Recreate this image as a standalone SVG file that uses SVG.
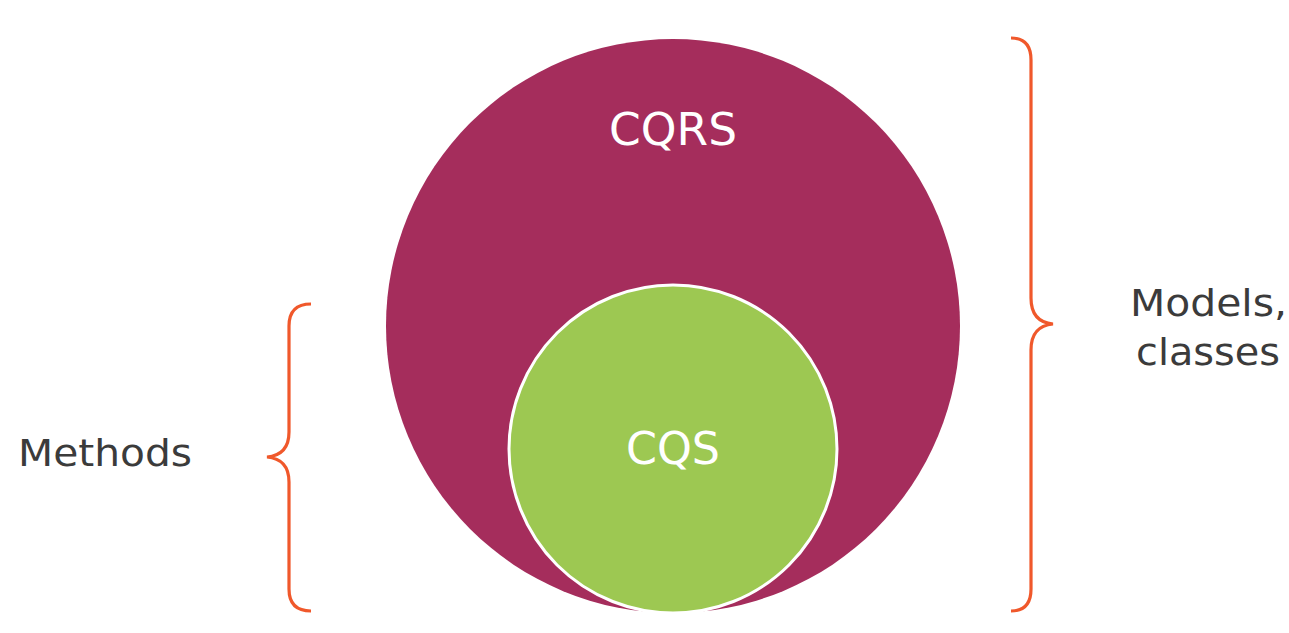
<svg xmlns="http://www.w3.org/2000/svg" width="1289" height="633" viewBox="0 0 1289 633">
<style>
.brace{fill:none;stroke:#F0582B;stroke-width:3.2;stroke-linecap:butt}
.lbl{font-family:"DejaVu Sans","Noto Sans",sans-serif;fill:#3b3b3b;font-size:38px}
.in{font-family:"DejaVu Sans","Noto Sans",sans-serif;fill:#ffffff;font-size:44px;text-anchor:middle}
</style>
<rect width="1289" height="633" fill="#ffffff"/>
<g id="cqrs">
<circle cx="673" cy="326" r="287" fill="#A52D5C"/>
<text class="in" x="673" y="145" textLength="128" lengthAdjust="spacingAndGlyphs">CQRS</text>
</g>
<g id="cqs">
<circle cx="673" cy="449" r="164" fill="#9DC852" stroke="#ffffff" stroke-width="3"/>
<text class="in" x="673" y="464" textLength="94" lengthAdjust="spacingAndGlyphs">CQS</text>
</g>
<g id="connectors">
<path class="brace" d="M1011,38 Q1031,38 1031,60 L1031,298 Q1031,322 1053,324 Q1031,326 1031,350 L1031,589 Q1031,611 1011,611"/>
<path class="brace" d="M311,304 Q289,304 289,326 L289,432 Q289,455 267,457 Q289,459 289,482 L289,589 Q289,611 311,611"/>
</g>
<g id="methods">
<text class="lbl" x="18" y="466" textLength="174" lengthAdjust="spacingAndGlyphs">Methods</text>
</g>
<g id="models">
<text class="lbl" x="1130" y="316" textLength="157" lengthAdjust="spacingAndGlyphs">Models,</text>
<text class="lbl" x="1136" y="365" textLength="144" lengthAdjust="spacingAndGlyphs">classes</text>
</g>
</svg>
